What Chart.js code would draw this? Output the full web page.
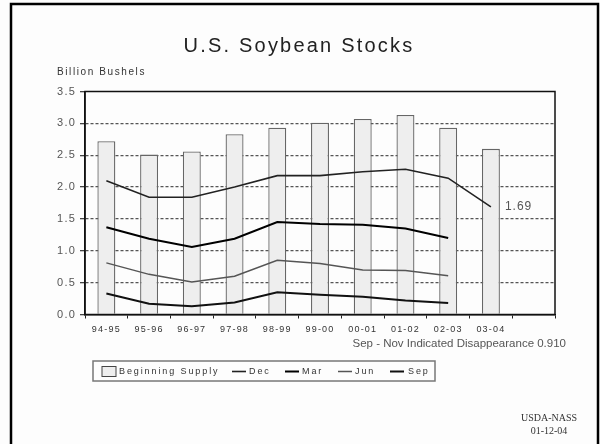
<!DOCTYPE html>
<html>
<head>
<meta charset="utf-8">
<script src="https://cdn.jsdelivr.net/npm/chart.js@4/dist/chart.umd.min.js"></script>
<style>
  html, body { margin: 0; padding: 0; background: #fdfdfd; }
  #wrap { width: 600px; height: 444px; }
</style>
</head>
<body>
<div id="wrap"><canvas id="chart" width="600" height="444"></canvas></div>
<script>
const seasons = ["94-95", "95-96", "96-97", "97-98", "98-99", "99-00", "00-01", "01-02", "02-03", "03-04", ""];
const beginningSupply = [2.72, 2.51, 2.56, 2.83, 2.93, 3.01, 3.07, 3.13, 2.93, 2.60, null];
const decStocks = [2.10, 1.84, 1.84, 2.00, 2.18, 2.18, 2.24, 2.28, 2.14, 1.69, null];
const marStocks = [1.37, 1.19, 1.06, 1.19, 1.45, 1.42, 1.41, 1.35, 1.20, null, null];
const junStocks = [0.81, 0.63, 0.51, 0.60, 0.85, 0.80, 0.70, 0.69, 0.61, null, null];
const sepStocks = [0.33, 0.17, 0.13, 0.19, 0.35, 0.31, 0.28, 0.22, 0.18, null, null];
const yTicks = [0, 0.5, 1.0, 1.5, 2.0, 2.5, 3.0, 3.5];

const FONT = "'Liberation Sans', Arial, sans-serif";

// frame, titles, notes and the boxed legend
const decorations = {
  id: "decorations",
  beforeDraw(chart) {
    const ctx = chart.ctx;
    ctx.save();
    ctx.fillStyle = "#fdfdfd";
    ctx.fillRect(0, 0, chart.width, chart.height);
    ctx.restore();
    ctx.letterSpacing = "1.2px";
  },
  afterDraw(chart) {
    const ctx = chart.ctx;
    const area = chart.chartArea;
    ctx.save();

    // plot border
    ctx.strokeStyle = "#111";
    ctx.lineWidth = 1.5;
    ctx.strokeRect(area.left, area.top, area.right - area.left, area.bottom - area.top);

    // outer frame
    ctx.strokeStyle = "#000";
    ctx.lineWidth = 2.5;
    ctx.beginPath();
    ctx.moveTo(11, 444);
    ctx.lineTo(11, 4);
    ctx.lineTo(598, 4);
    ctx.lineTo(598, 444);
    ctx.stroke();

    ctx.textBaseline = "middle";
    ctx.fillStyle = "#222";
    ctx.textAlign = "center";
    ctx.letterSpacing = "2.2px";
    ctx.font = "20px " + FONT;
    ctx.fillText("U.S. Soybean Stocks", 299, 46);

    ctx.textAlign = "left";
    ctx.fillStyle = "#333";
    ctx.letterSpacing = "1.6px";
    ctx.font = "10px " + FONT;
    ctx.fillText("Billion Bushels", 57, 72);

    // 1.69 label next to the last Dec point
    const pt = chart.getDatasetMeta(1).data[9];
    ctx.fillStyle = "#555";
    ctx.letterSpacing = "1px";
    ctx.font = "12px " + FONT;
    ctx.fillText(decStocks[9].toFixed(2), pt.x + 14, pt.y);

    ctx.textAlign = "right";
    ctx.letterSpacing = "0px";
    ctx.font = "11.5px " + FONT;
    ctx.fillText("Sep - Nov Indicated Disappearance 0.910", 566, 344);

    // legend box
    ctx.strokeStyle = "#777";
    ctx.lineWidth = 1.5;
    ctx.strokeRect(93, 361, 342, 20);
    const ly = 371.5;
    const ds = chart.data.datasets;
    ctx.fillStyle = ds[0].backgroundColor;
    ctx.strokeStyle = "#444";
    ctx.lineWidth = 1;
    ctx.fillRect(102, 366.5, 14, 10);
    ctx.strokeRect(102, 366.5, 14, 10);
    ctx.textAlign = "left";
    ctx.letterSpacing = "1.9px";
    ctx.font = "9px " + FONT;
    ctx.fillStyle = "#333";
    ctx.fillText(ds[0].label, 119, ly);
    const lineItems = [[232, 249], [285, 302], [338, 355], [390, 408]];
    lineItems.forEach(([x, tx], i) => {
      const d = ds[i + 1];
      ctx.strokeStyle = d.borderColor;
      ctx.lineWidth = d.borderWidth;
      ctx.beginPath();
      ctx.moveTo(x, ly);
      ctx.lineTo(x + 14, ly);
      ctx.stroke();
      ctx.fillStyle = "#333";
      ctx.fillText(d.label, tx, ly);
    });

    // source
    ctx.textAlign = "center";
    ctx.letterSpacing = "0px";
    ctx.fillStyle = "#333";
    ctx.font = "10px 'Liberation Serif', 'Times New Roman', serif";
    ctx.fillText("USDA-NASS", 549, 418);
    ctx.fillText("01-12-04", 549, 431);
    ctx.restore();
  }
};

new Chart(document.getElementById("chart"), {
  type: "bar",
  data: {
    labels: seasons,
    datasets: [
      {
        type: "bar",
        label: "Beginning Supply",
        data: beginningSupply,
        backgroundColor: "#eeeeee",
        borderColor: "#666",
        borderWidth: 1.3,
        borderSkipped: "bottom",
        categoryPercentage: 1,
        barPercentage: 0.42,
        order: 2
      },
      { type: "line", label: "Dec", data: decStocks, borderColor: "#222", borderWidth: 1.6, pointRadius: 0, tension: 0, order: 1 },
      { type: "line", label: "Mar", data: marStocks, borderColor: "#000", borderWidth: 2, pointRadius: 0, tension: 0, order: 1 },
      { type: "line", label: "Jun", data: junStocks, borderColor: "#555", borderWidth: 1.5, pointRadius: 0, tension: 0, order: 1 },
      { type: "line", label: "Sep", data: sepStocks, borderColor: "#111", borderWidth: 2, pointRadius: 0, tension: 0, order: 1 }
    ]
  },
  options: {
    responsive: false,
    animation: false,
    events: [],
    layout: { padding: { left: 0, right: 45, top: 91.5, bottom: 109.5 } },
    plugins: {
      legend: { display: false },
      title: { display: false },
      tooltip: { enabled: false }
    },
    scales: {
      x: {
        offset: true,
        afterFit(scale) { scale.height = 20; },
        grid: {
          offset: true,
          drawOnChartArea: false,
          color: "#222",
          tickLength: 4
        },
        border: { display: true, color: "#111", width: 1.5 },
        ticks: {
          color: "#333",
          padding: 6,
          maxRotation: 0,
          autoSkip: false,
          font: { family: FONT, size: 9 }
        }
      },
      y: {
        min: 0,
        max: 3.5,
        afterFit(scale) { scale.width = 85; },
        afterBuildTicks(scale) { scale.ticks = yTicks.map(v => ({ value: v })); },
        grid: {
          color: (c) => (c.tick && (c.tick.value === 0 || c.tick.value === 3.5)) ? "rgba(0,0,0,0)" : "#555",
          lineWidth: 1.3,
          tickColor: "#444",
          tickLength: 5,
          tickBorderDash: [0, 0]
        },
        border: { display: true, color: "#111", width: 1.5, dash: [3, 2] },
        ticks: {
          color: "#555",
          padding: 4,
          font: { family: FONT, size: 11 },
          callback: (v) => Number(v).toFixed(1)
        }
      }
    }
  },
  plugins: [decorations]
});
</script>
</body>
</html>
